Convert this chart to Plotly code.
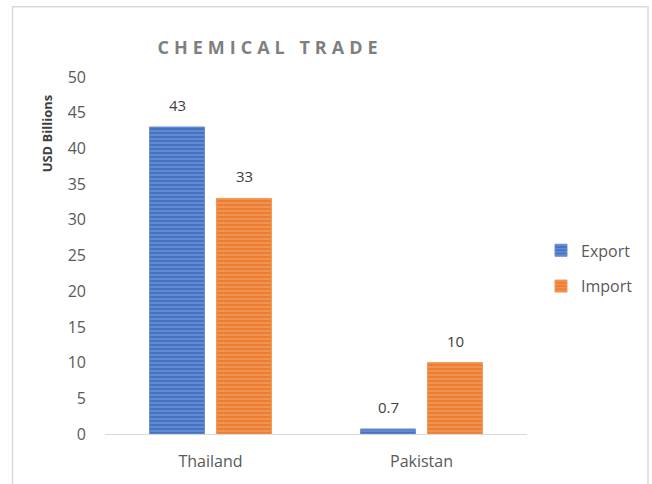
import plotly.graph_objects as go

countries = ["Thailand", "Pakistan"]
export_vals = [43, 0.7]
import_vals = [33, 10]
export_labels = ["43", "0.7"]
import_labels = ["33", "10"]
y_ticks = [0, 5, 10, 15, 20, 25, 30, 35, 40, 45, 50]

BLUE = "#4472C4"
BLUE_L = "#9DB4E0"
ORANGE = "#ED7D31"
ORANGE_L = "#F6B98E"
FONT = "Open Sans"

fig = go.Figure()
fig.add_trace(go.Bar(
    name="Export", x=countries, y=export_vals, legendgroup="e",
    marker=dict(color=BLUE, line=dict(color="#6A8FD3", width=1),
                pattern=dict(shape="-", fgcolor=BLUE_L, bgcolor=BLUE, size=4, solidity=0.35)),
))
fig.add_trace(go.Bar(
    name="Import", x=countries, y=import_vals, legendgroup="i",
    marker=dict(color=ORANGE, line=dict(color="#F09858", width=1),
                pattern=dict(shape="-", fgcolor=ORANGE_L, bgcolor=ORANGE, size=4, solidity=0.35)),
))

annotations = []
for c, v, t in zip(countries, export_vals, export_labels):
    annotations.append(dict(x=c, y=v, text=t, xref="x", yref="y", xshift=-33.5, yshift=22,
                            showarrow=False, font=dict(family=FONT, size=15, color="#404040")))
for c, v, t in zip(countries, import_vals, import_labels):
    annotations.append(dict(x=c, y=v, text=t, xref="x", yref="y", xshift=33.5, yshift=22,
                            showarrow=False, font=dict(family=FONT, size=15, color="#404040")))
annotations.append(dict(text="<b>USD Billions</b>", textangle=-90, xref="paper", yref="paper",
                        x=(47 - 105) / 422, y=(438 - 134) / 361, xanchor="center", yanchor="middle",
                        showarrow=False, font=dict(family=FONT, size=13, color="#404040")))

fig.update_layout(
    width=652, height=484,
    margin=dict(l=105, r=125, t=77, b=46),
    paper_bgcolor="white", plot_bgcolor="white",
    barmode="group", bargap=0.365, bargroupgap=0.18,
    title=dict(text="<b>CHEMICAL TRADE</b>", x=(270) / 652, xanchor="center", y=1 - 48 / 484, yanchor="middle",
               font=dict(family=FONT, size=18, color="#7F7F7F")),
    font=dict(family=FONT, size=16, color="#595959"),
    showlegend=True,
    legend=dict(x=(541 - 105) / 422, y=(438 - 270.5) / 361, xanchor="left", yanchor="middle",
                tracegroupgap=12, font=dict(family=FONT, size=16, color="#595959"),
                itemwidth=30, bgcolor="rgba(0,0,0,0)"),
    annotations=annotations,
    shapes=[dict(type="rect", xref="paper", yref="paper",
                 x0=(12.5 - 105) / 422, x1=(648 - 105) / 422,
                 y0=(438 - 500) / 361, y1=(438 - 6) / 361,
                 line=dict(color="#D9D9D9", width=1.5), fillcolor="rgba(0,0,0,0)", layer="below")],
)
fig.update_xaxes(showline=True, linecolor="#D9D9D9", linewidth=1, showgrid=False,
                 ticks="", tickfont=dict(family=FONT, size=16, color="#595959"), ticklabelstandoff=13)
fig.update_yaxes(range=[0, 50], tickvals=y_ticks, showgrid=False, zeroline=False, showline=False,
                 ticks="", tickfont=dict(family=FONT, size=16, color="#595959"), ticklabelstandoff=18)

post = ("document.body.style.margin='0';document.body.style.overflow='hidden';"
        "document.querySelectorAll('.gtitle').forEach(function(t){t.style.letterSpacing='5px';});")
fig.write_html("out.html", config={"displayModeBar": False}, post_script=post)
